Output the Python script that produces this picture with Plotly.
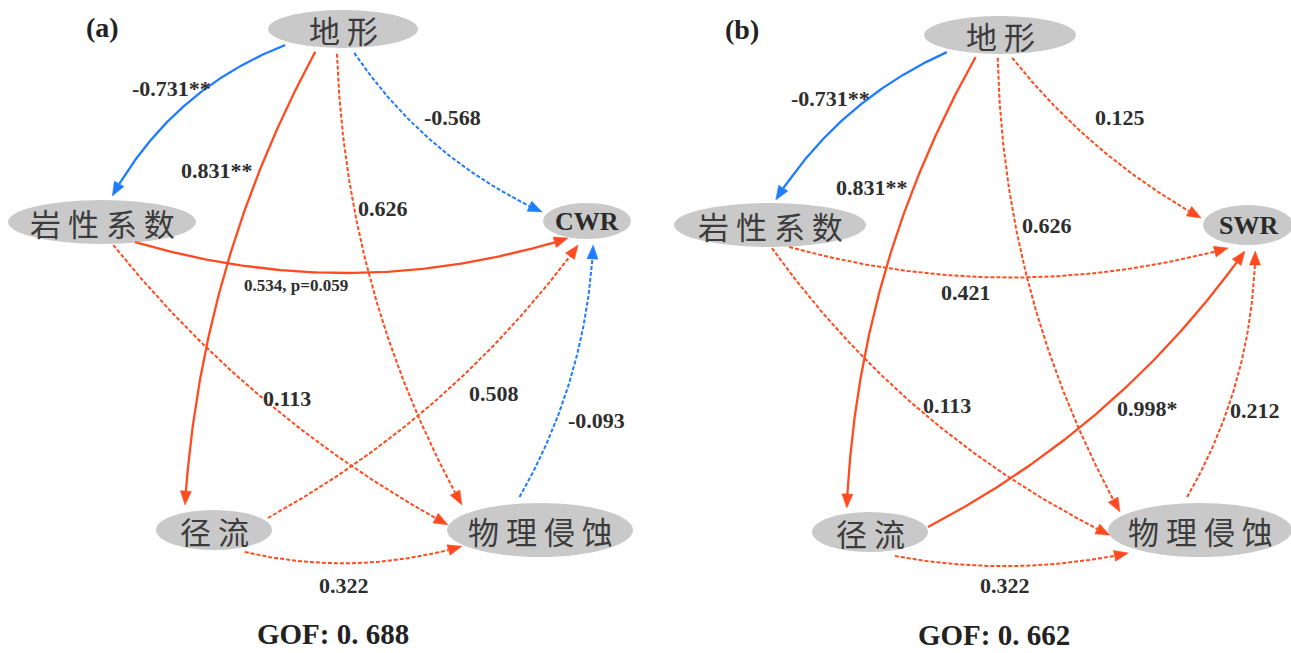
import numpy as np
import plotly.graph_objects as go

# ---- path model results ---------------------------------------------------
edge_source = ["地形", "地形", "地形", "地形", "岩性系数", "岩性系数", "径流", "物理侵蚀", "径流"]
edge_target_a = ["岩性系数", "径流", "物理侵蚀", "CWR", "CWR", "物理侵蚀", "CWR", "CWR", "物理侵蚀"]
edge_target_b = ["岩性系数", "径流", "物理侵蚀", "SWR", "SWR", "物理侵蚀", "SWR", "SWR", "物理侵蚀"]

coef_a = [-0.731, 0.831, 0.626, -0.568, 0.534, 0.113, 0.508, -0.093, 0.322]
stars_a = ["**", "**", "", "", "", "", "", "", ""]
pvalue_a = [None, None, None, None, 0.059, None, None, None, None]

coef_b = [-0.731, 0.831, 0.626, 0.125, 0.421, 0.113, 0.998, 0.212, 0.322]
stars_b = ["**", "**", "", "", "", "", "*", "", ""]
pvalue_b = [None, None, None, None, None, None, None, None, None]

gof_a = 0.688
gof_b = 0.662

# ---- drawing geometry (pixel space) ---------------------------------------
# node: (cx, cy, rx, ry)
NODES_A = {"地形": (343, 29, 75, 19), "岩性系数": (102, 222, 94, 22), "CWR": (587, 221, 44, 18),
           "径流": (214, 530, 58, 20), "物理侵蚀": (540, 530, 93, 27)}
NODES_B = {"地形": (1000, 35, 76, 19), "岩性系数": (770, 225, 96, 22), "SWR": (1248, 225, 45, 20),
           "径流": (870, 532, 58, 20), "物理侵蚀": (1200, 530, 92, 27)}

# edge: (start offset in radii, end offset in radii, bend, label centre)
EDGES_A = [((-0.77, 0.84), (0.11, -1.18), 0.18, (171, 88)),
           ((-0.37, 1.20), (-0.50, -1.25), 0.11, (217, 170)),
           ((-0.08, 1.30), (-0.84, -0.93), 0.12, (383, 208)),
           ((0.15, 1.26), (-1.02, -0.50), 0.14, (452, 117)),
           ((0.35, 0.91), (-0.43, 0.95), 0.152, (296, 285)),
           ((0.12, 1.05), (-0.99, -0.19), 0.10, (287, 398)),
           ((0.93, -0.60), (-0.20, 1.33), 0.11, (494, 393)),
           ((-0.22, -1.22), (0.14, 1.33), 0.12, (596, 420)),
           ((0.53, 1.10), (-0.84, 0.60), 0.13, (344, 585))]
EDGES_B = [((-0.70, 0.90), (0.06, -1.14), 0.15, (830, 98)),
           ((-0.32, 1.16), (-0.40, -1.20), 0.12, (872, 187)),
           ((-0.03, 1.20), (-0.87, -0.67), 0.123, (1047, 225)),
           ((0.16, 1.20), (-1.04, -0.35), 0.10, (1120, 117)),
           ((0.20, 1.00), (-0.44, 1.15), 0.137, (966, 292)),
           ((0.02, 1.05), (-0.98, 0.19), 0.125, (947, 405)),
           ((1.00, -0.25), (-0.07, 1.30), 0.12, (1147, 408)),
           ((-0.14, -1.22), (0.16, 1.30), 0.13, (1255, 410)),
           ((0.43, 1.20), (-0.78, 0.85), 0.10, (1005, 585))]

RED = "#FF4B1F"
BLUE = "#1F7BFF"
NODE_FILL = "#C9C9C9"
TEXT = "#2e2e2e"
SERIF = "Liberation Serif, Times New Roman, serif"
CJK = "Noto Sans CJK SC, sans-serif"
W, H = 1291, 653
ARROW_LEN, ARROW_W = 14, 11

fig = go.Figure()
annotations = []
shapes = []


def node_point(geom, u):
    cx, cy, rx, ry = geom
    return np.array([cx + u[0] * rx, cy + u[1] * ry], float)


def draw_edge(p0, p2, bend, color, solid):
    d = p2 - p0
    L = np.hypot(*d)
    normal = np.array([-d[1], d[0]]) / L
    ctrl = (p0 + p2) / 2 + bend * L * normal
    t = np.linspace(0, 1, 120)[:, None]
    pts = (1 - t) ** 2 * p0 + 2 * (1 - t) * t * ctrl + t ** 2 * p2
    tang = (p2 - ctrl) / np.hypot(*(p2 - ctrl))
    base = p2 - tang * ARROW_LEN
    keep = np.hypot(*(pts - p2).T) > ARROW_LEN
    pts = np.vstack([pts[keep], base])
    fig.add_trace(go.Scatter(
        x=pts[:, 0], y=pts[:, 1], mode="lines",
        line=dict(color=color, width=2.3 if solid else 2.0,
                  dash="solid" if solid else "4px,2px"),
        hoverinfo="skip", showlegend=False))
    perp = np.array([-tang[1], tang[0]])
    tri = np.array([p2, base + perp * ARROW_W / 2, base - perp * ARROW_W / 2, p2])
    fig.add_trace(go.Scatter(
        x=tri[:, 0], y=tri[:, 1], mode="lines", fill="toself",
        fillcolor=color, line=dict(color=color, width=0.5),
        hoverinfo="skip", showlegend=False))


def draw_panel(nodes, targets, coefs, stars, pvals, edges, tag, tag_pos, gof, gof_pos):
    for name, (cx, cy, rx, ry) in nodes.items():
        shapes.append(dict(type="circle", xref="x", yref="y",
                           x0=cx - rx, x1=cx + rx, y0=cy - ry, y1=cy + ry,
                           fillcolor=NODE_FILL, line=dict(width=0), layer="below"))
        latin = name.isascii()
        annotations.append(dict(
            x=cx, y=cy, xref="x", yref="y", showarrow=False,
            text=name if latin else " ".join(name),
            font=dict(family=SERIF if latin else CJK, size=26 if latin else 31,
                      color="#2b2b2b" if latin else "#3c3c3c",
                      weight="bold" if latin else "normal"),
            xanchor="center", yanchor="middle"))

    for src, dst, c, s, p, (u0, u1, bend, lab) in zip(edge_source, targets, coefs,
                                                      stars, pvals, edges):
        p0 = node_point(nodes[src], u0)
        p2 = node_point(nodes[dst], u1)
        solid = bool(s) or (p is not None and p < 0.1)
        color = BLUE if c < 0 else RED
        draw_edge(p0, p2, bend, color, solid)
        if p is not None:
            text, size = f"{c:.3f}, p={p:.3f}", 17
        else:
            text, size = f"{c:.3f}{s}", 22
        annotations.append(dict(
            x=lab[0], y=lab[1], xref="x", yref="y", showarrow=False, text=text,
            font=dict(family=SERIF, size=size, color=TEXT, weight="bold"),
            xanchor="center", yanchor="middle"))

    annotations.append(dict(
        x=tag_pos[0], y=tag_pos[1], xref="x", yref="y", showarrow=False, text=tag,
        font=dict(family=SERIF, size=28, color="#222222", weight="bold"),
        xanchor="center", yanchor="middle"))
    annotations.append(dict(
        x=gof_pos[0], y=gof_pos[1], xref="x", yref="y", showarrow=False,
        text="GOF: " + f"{gof:.3f}".replace(".", ". "),
        font=dict(family=SERIF, size=29, color="#222222", weight="bold"),
        xanchor="center", yanchor="middle"))


draw_panel(NODES_A, edge_target_a, coef_a, stars_a, pvalue_a, EDGES_A,
           "(a)", (102, 27), gof_a, (333, 634))
draw_panel(NODES_B, edge_target_b, coef_b, stars_b, pvalue_b, EDGES_B,
           "(b)", (742, 29), gof_b, (994, 635))

fig.update_layout(
    width=W, height=H, margin=dict(l=0, r=0, t=0, b=0),
    paper_bgcolor="white", plot_bgcolor="white",
    xaxis=dict(range=[0, W], visible=False, fixedrange=True),
    yaxis=dict(range=[H, 0], visible=False, fixedrange=True),
    shapes=shapes, annotations=annotations, showlegend=False)

fig.write_html("out.html")
